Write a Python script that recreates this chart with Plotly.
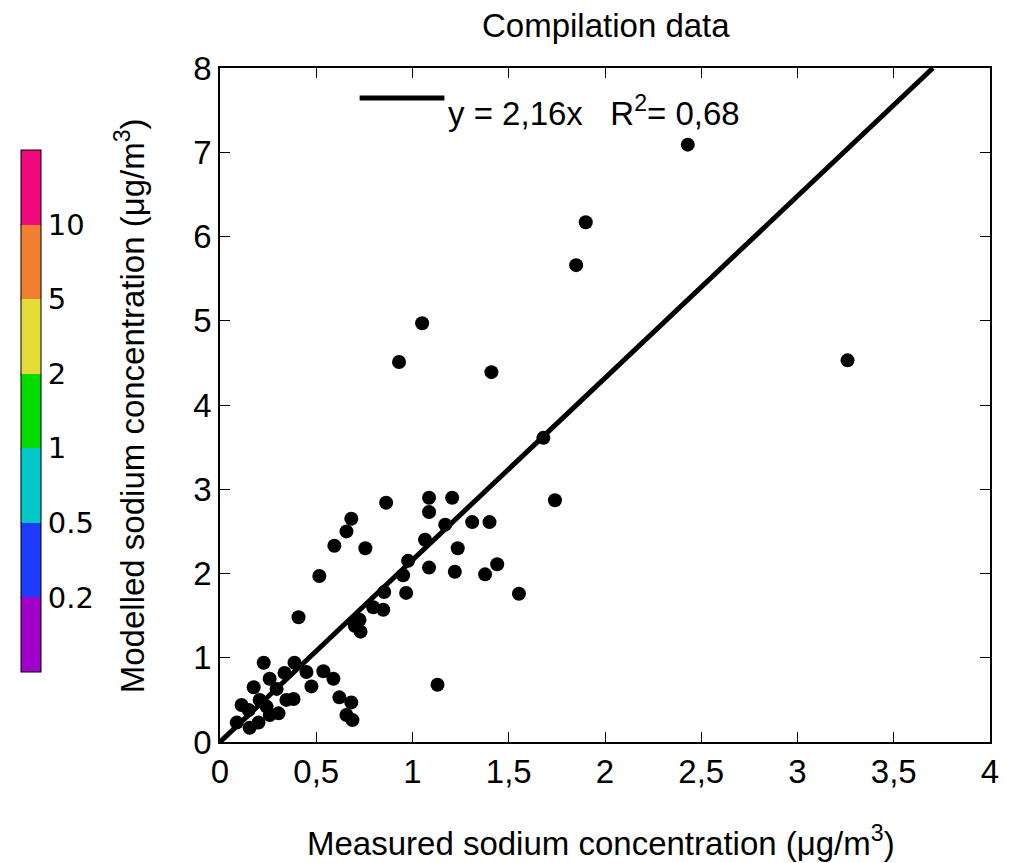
import plotly.graph_objects as go

# ---- data ----
measured = [2.43, 1.90, 1.85, 1.05, 0.93, 1.41, 3.26, 1.68, 1.74,
            0.863, 1.086, 1.206, 1.086, 1.17, 1.31, 1.40, 1.065, 1.235, 0.977,
            0.951, 1.086, 1.22, 1.377, 1.44, 0.853, 0.967, 1.553, 0.848, 0.796,
            0.725, 0.70, 0.73,
            0.682, 0.657, 0.594, 0.755, 0.516, 0.408, 1.13,
            0.227, 0.387, 0.335, 0.449, 0.537, 0.589, 0.475, 0.175, 0.258, 0.294,
            0.62, 0.682, 0.657, 0.688, 0.382, 0.345, 0.304, 0.206, 0.112, 0.149,
            0.087, 0.154, 0.20, 0.242, 0.258]
modelled = [7.09, 6.17, 5.66, 4.97, 4.51, 4.39, 4.53, 3.61, 2.87,
            2.84, 2.90, 2.90, 2.73, 2.58, 2.61, 2.61, 2.40, 2.30, 2.15,
            1.98, 2.07, 2.02, 1.99, 2.11, 1.78, 1.77, 1.76, 1.57, 1.60,
            1.45, 1.38, 1.31,
            2.65, 2.50, 2.33, 2.30, 1.97, 1.48, 0.68,
            0.94, 0.94, 0.82, 0.83, 0.84, 0.75, 0.66, 0.65, 0.75, 0.63,
            0.53, 0.47, 0.32, 0.26, 0.51, 0.50, 0.34, 0.50, 0.44, 0.38,
            0.23, 0.17, 0.23, 0.42, 0.32]

slope = 2.16
r2 = 0.68

x_ticks = [0, 0.5, 1, 1.5, 2, 2.5, 3, 3.5, 4]
x_ticktext = ["0", "0,5", "1", "1,5", "2", "2,5", "3", "3,5", "4"]
y_ticks = [0, 1, 2, 3, 4, 5, 6, 7, 8]
y_ticktext = ["0", "1", "2", "3", "4", "5", "6", "7", "8"]

bin_labels = ["0.2", "0.5", "1", "2", "5", "10"]
bin_colors = ["#A000C8", "#1E3CFF", "#00C8C8", "#00DC00",
              "#E6DC37", "#F08030", "#F0087C"]

FONT = "Liberation Sans, Arial, sans-serif"
FS = 33

# page offset of the plot div (browser body margin)
OFF = 8
PL, PT, PW, PH = 218, 68, 772, 674   # plot area in page pixels


def px(xp):
    return (xp - PL) / PW


def py(yp):
    return (PT + PH - yp) / PH


fig = go.Figure()

# regression line
y_top = 8
fig.add_trace(go.Scatter(
    x=[0, y_top / slope], y=[0, y_top], mode="lines",
    line=dict(color="black", width=5), showlegend=False, hoverinfo="skip"))

# points
fig.add_trace(go.Scatter(
    x=measured, y=modelled, mode="markers",
    marker=dict(color="black", size=14), showlegend=False))

# discrete colour bar
n = len(bin_colors)
cscale = []
for i, c in enumerate(bin_colors):
    cscale.append([i / n, c])
    cscale.append([(i + 1) / n, c])
cb_top, cb_bot = 150, 672
fig.add_trace(go.Scatter(
    x=[None], y=[None], mode="markers", showlegend=False, hoverinfo="skip",
    marker=dict(color=[0], cmin=0, cmax=n, colorscale=cscale, showscale=True,
                colorbar=dict(
                    x=px(18), xanchor="left", xpad=0,
                    y=py((cb_top + cb_bot) / 2), yanchor="middle", ypad=0,
                    len=cb_bot - cb_top, lenmode="pixels", thickness=20,
                    thicknessmode="pixels",
                    outlinecolor="black", outlinewidth=1,
                    tickvals=list(range(1, n)), ticktext=bin_labels,
                    ticks="",
                    tickfont=dict(family="DejaVu Sans", size=29, color="black"),
                ))))

shapes = []
for k in range(1, n):
    yb = cb_bot - (cb_bot - cb_top) * k / n
    shapes.append(dict(type="line", xref="paper", yref="paper",
                       x0=px(18), x1=px(38), y0=py(yb), y1=py(yb),
                       line=dict(color="black", width=1)))

axis_common = dict(showgrid=False, zeroline=False, showline=True,
                   linecolor="black", linewidth=1.5, mirror="ticks",
                   ticks="inside", ticklen=10, tickcolor="black",
                   tickfont=dict(family=FONT, size=FS, color="black"))

fig.update_xaxes(range=[0, 4], tickvals=x_ticks, ticktext=x_ticktext,
                 **axis_common)
fig.update_yaxes(range=[0, 8], tickvals=y_ticks, ticktext=y_ticktext,
                 **axis_common)

# legend key for regression line
shapes.append(dict(type="line", xref="paper", yref="paper",
                   x0=px(358), x1=px(443), y0=py(98), y1=py(98),
                   line=dict(color="black", width=5)))

eq = f"y = {slope:.2f}x\u00a0\u00a0\u00a0R<sup>2</sup>= {r2:.2f}".replace(".", ",")
annotations = [
    dict(text=eq, xref="paper", yref="paper", x=px(445), y=py(111),
         xanchor="left", yanchor="middle", showarrow=False,
         font=dict(family=FONT, size=FS, color="black")),
    dict(text="Measured sodium concentration (\u03bcg/m<sup>3</sup>)",
         xref="paper", yref="paper", x=px(600), y=py(841),
         xanchor="center", yanchor="middle", showarrow=False,
         font=dict(family=FONT, size=FS, color="black")),
    dict(text="Modelled sodium concentration (\u03bcg/m<sup>3</sup>)",
         xref="paper", yref="paper", x=px(128), y=py(406),
         xanchor="center", yanchor="middle", textangle=-90, showarrow=False,
         font=dict(family=FONT, size=FS, color="black")),
    dict(text="Compilation data",
         xref="paper", yref="paper", x=px(605), y=py(25),
         xanchor="center", yanchor="middle", showarrow=False,
         font=dict(family=FONT, size=FS, color="black")),
]

W, H = 1015 - OFF, 863 - OFF
fig.update_layout(
    width=W, height=H,
    margin=dict(l=PL - OFF, r=W - (PL - OFF) - PW, t=PT - OFF,
                b=H - (PT - OFF) - PH),
    paper_bgcolor="white", plot_bgcolor="white",
    annotations=annotations, shapes=shapes,
    showlegend=False,
)

fig.write_html("out.html")
